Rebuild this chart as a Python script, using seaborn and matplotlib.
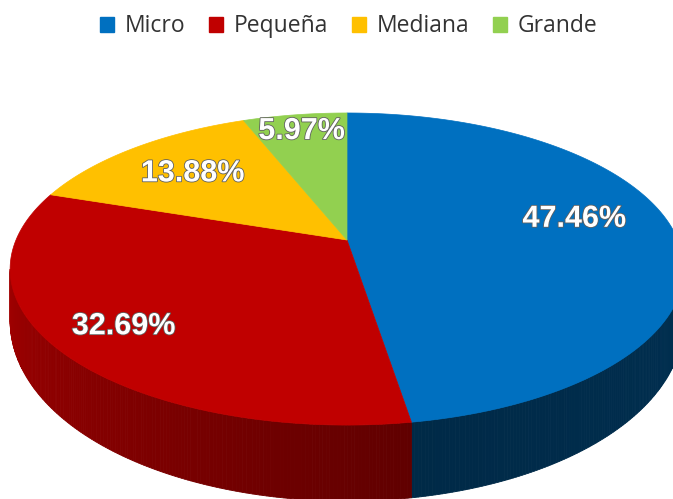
import numpy as np
import matplotlib
matplotlib.use("Agg")
import matplotlib.pyplot as plt
import matplotlib.patheffects as pe
from matplotlib.patches import Polygon, Patch
import seaborn as sns

categories = ["Micro", "Pequeña", "Mediana", "Grande"]
shares = [47.46, 32.69, 13.88, 5.97]
pct_labels = ["47.46%", "32.69%", "13.88%", "5.97%"]
colors = ["#0070C0", "#C00000", "#FFC000", "#92D050"]

sns.set_style("white")

# perspective of the pie top (pixel space)
CX, Y0 = 347, 240      # projected centre of the pie
A, B, G = 331, 106, 0.186
D0, D1 = 46, 30        # wall height: thicker at the front
side_shade = [(0.37, 0.42), (0.84, 0.50), (0.6, 0.6), (0.6, 0.6)]  # left -> right
label_r = [0.72, 0.80, 0.70, 0.85]
label_turn = [7, 0, 0, 0]


def proj(phi_deg, r=1.0):
    p = np.radians(phi_deg)
    u, v = r * np.cos(p), r * np.sin(p)
    d = 1 + G * v
    return CX + A * u / d, (Y0 - B * v) / d


def wall(phi_deg):
    return D0 - D1 * np.sin(np.radians(phi_deg))


fig = plt.figure(figsize=(6.73, 4.99), dpi=100)
ax = fig.add_axes([0, 0, 1, 1])
ax.set_xlim(0, 673)
ax.set_ylim(499, 0)
ax.axis("off")

bounds = 90 - 3.6 * np.concatenate([[0], np.cumsum(shares)])
lo = np.degrees(np.arcsin(G)) - 180   # left silhouette
hi = -np.degrees(np.arcsin(G))        # right silhouette

# side walls
for i, c in enumerate(colors):
    start, end = bounds[i], bounds[i + 1]
    for k in (-360, 0, 360):
        a0, a1 = max(end + k, lo), min(start + k, hi)
        if a1 <= a0:
            continue
        n = max(int((a1 - a0) * 2), 2)
        phis = np.linspace(a0, a1, n + 1)
        base = np.array(matplotlib.colors.to_rgb(c))
        s0, s1 = side_shade[i]
        for j in range(n):
            t = ((phis[j] + phis[j + 1]) / 2 - a0) / (a1 - a0)
            sh = s0 + (s1 - s0) * t
            x0, y0 = proj(phis[j])
            x1, y1 = proj(phis[j + 1])
            quad = [(x0, y0), (x1, y1),
                    (x1, y1 + wall(phis[j + 1])), (x0, y0 + wall(phis[j]))]
            col = np.clip(base * sh, 0, 1)
            ax.add_patch(Polygon(quad, closed=True, facecolor=col,
                                 edgecolor=col, lw=0.6))

# top faces
for i, c in enumerate(colors):
    phis = np.linspace(bounds[i], bounds[i + 1], 240)
    pts = [(CX, Y0)] + [proj(p) for p in phis]
    ax.add_patch(Polygon(pts, closed=True, facecolor=c, edgecolor=c, lw=0.5))

# percentage labels
for i, txt in enumerate(pct_labels):
    mid = (bounds[i] + bounds[i + 1]) / 2 + label_turn[i]
    x, y = proj(mid, label_r[i])
    ax.text(x, y, txt, ha="center", va="center", color="white",
            fontsize=22, fontweight="bold", family="Liberation Sans",
            path_effects=[pe.withStroke(linewidth=1.2, foreground="#606060")])

handles = [Patch(facecolor=c, edgecolor=c, label=n) for n, c in zip(categories, colors)]
leg = fig.legend(handles=handles, loc="upper center", bbox_to_anchor=(0.518, 0.99),
                 ncol=4, frameon=False, prop={"family": "Open Sans", "size": 16.5},
                 handlelength=0.62, handleheight=0.62, handletextpad=0.45,
                 columnspacing=1.05, borderaxespad=0)
for t in leg.get_texts():
    t.set_color("#333333")

fig.savefig("out.png", dpi=100)
